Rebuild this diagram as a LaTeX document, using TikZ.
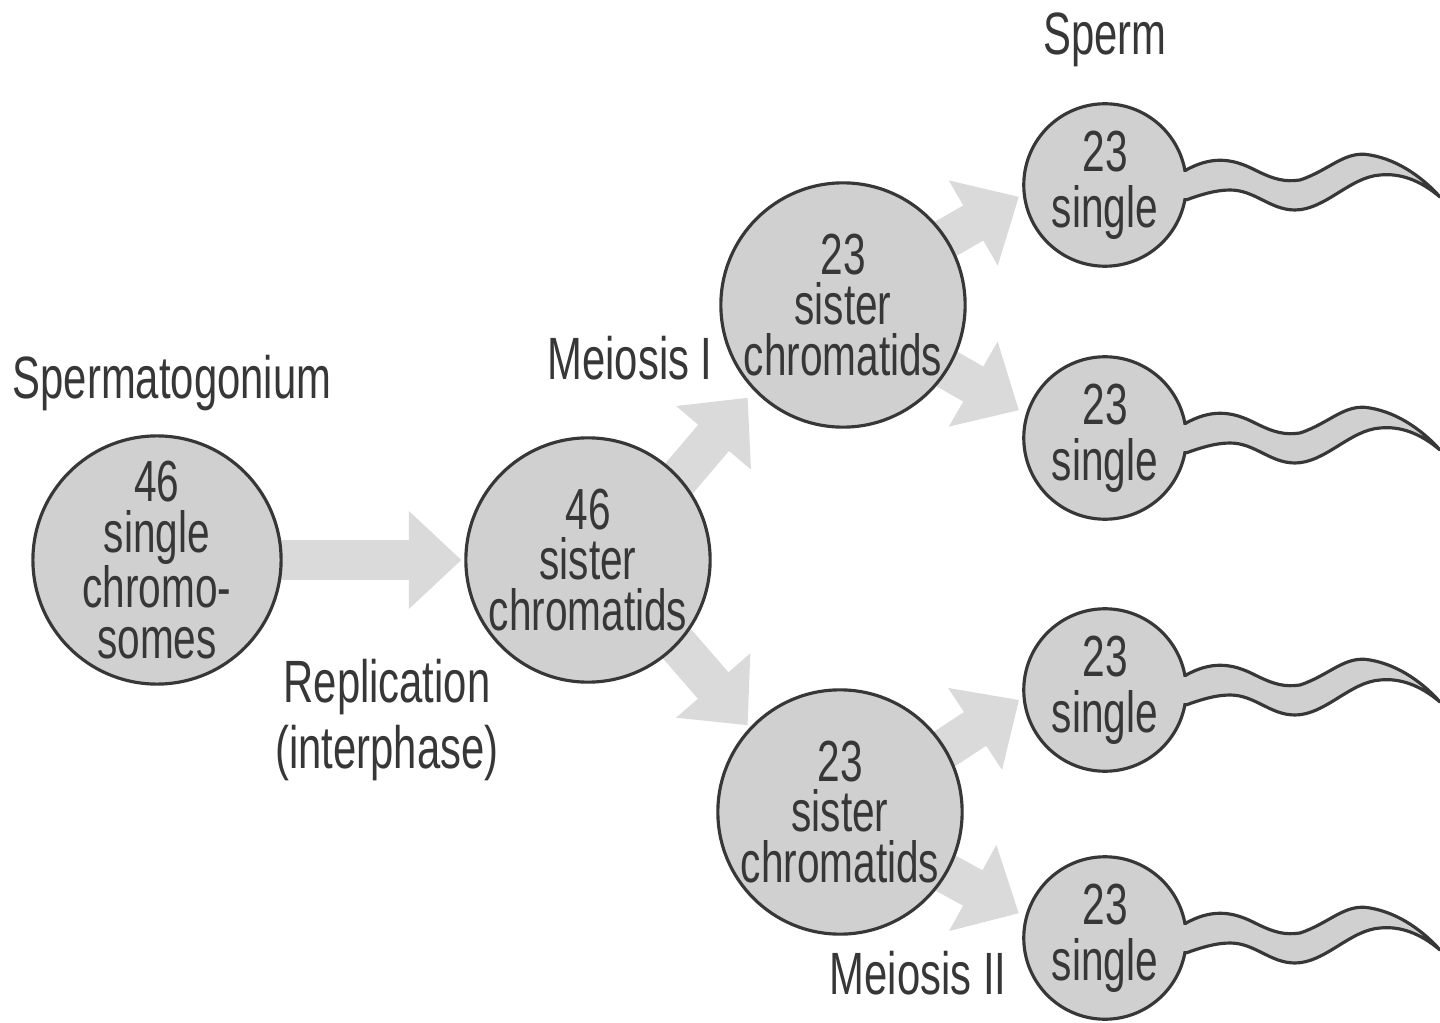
\documentclass[tikz,border=0pt]{standalone}
\usepackage{fontspec}
\setmainfont{Liberation Sans}[FakeStretch=0.7]
\usetikzlibrary{arrows.meta}
\definecolor{cellfill}{RGB}{208,208,208}
\definecolor{arrowfill}{RGB}{218,218,218}
\definecolor{ink}{RGB}{55,55,55}
\tikzset{
  cell/.style={circle,draw=ink,line width=1.8pt,fill=cellfill,minimum size=#1,inner sep=0pt,align=center,text=ink,font=\fontsize{33}{29}\selectfont},
  lab/.style={text=ink,font=\fontsize{34}{38}\selectfont,align=center,inner sep=0pt},
  bigarrow/.style={draw=arrowfill,line width=23pt,-{Triangle[width=54pt,length=30pt]},shorten >=2pt}
}
\begin{document}
\begin{tikzpicture}[x=0.02cm,y=-0.02cm]
\useasboundingbox (0,0) rectangle (1440,1023);
% tails
\foreach \cy/\nm in {185/t1,438/t2,690/t3,938/t4}{
  \begin{scope}[shift={(1105,\cy)}]
  \fill[cellfill] (60,-15) -- (82,-15) .. controls (105,-28) and (125,-28) .. (150,-15) .. controls (170,-5) and (180,-3) .. (195,-5) .. controls (225,-15) and (240,-35) .. (265,-30) .. controls (295,-25) and (320,-5) .. (335,12) .. controls (315,-5) and (295,-12) .. (275,-10) .. controls (245,-8) and (220,25) .. (190,25) .. controls (165,25) and (150,5) .. (125,5) .. controls (110,5) and (95,10) .. (82,15) -- (60,15) -- cycle;
  \end{scope}
}
% arrows
\coordinate (a1) at (280,560); \coordinate (a2) at (465,560);
\draw[bigarrow] (a1) -- (a2);
\coordinate (b1) at (665,495); \coordinate (b2) at (750,395);
\draw[bigarrow] (b1) -- (b2);
\coordinate (c1) at (665,630); \coordinate (c2) at (750,728);
\draw[bigarrow] (c1) -- (c2);
\coordinate (d1) at (935,245); \coordinate (d2) at (1022,195);
\draw[bigarrow] (d1) -- (d2);
\coordinate (e1) at (940,365); \coordinate (e2) at (1022,412);
\draw[bigarrow] (e1) -- (e2);
\coordinate (f1) at (940,752); \coordinate (f2) at (1022,698);
\draw[bigarrow] (f1) -- (f2);
\coordinate (g1) at (940,870); \coordinate (g2) at (1022,915);
\draw[bigarrow] (g1) -- (g2);
% cells
\node[cell=4.65cm] (A) at (157,560) {46\\single\\chromo-\\somes};
\node[cell=4.65cm] (B) at (588,560) {46\\sister\\chromatids};
\node[cell=4.65cm] (C) at (843,305) {23\\sister\\chromatids};
\node[cell=4.65cm] (D) at (840,812) {23\\sister\\chromatids};
\foreach \cy/\nm in {185/S1,438/S2,690/S3,938/S4}{
  \node[cell=3.25cm,font=\fontsize{33}{32}\selectfont] (\nm) at (1105,\cy) {23\\single};
  \begin{scope}[shift={(1105,\cy)}]
  \fill[cellfill] (70,-13) rectangle (84,13);
  \draw[ink,line width=1.8pt,line join=round] (81,-15) .. controls (105,-28) and (125,-28) .. (150,-15) .. controls (170,-5) and (180,-3) .. (195,-5) .. controls (225,-15) and (240,-35) .. (265,-30) .. controls (295,-25) and (320,-5) .. (335,12) .. controls (315,-5) and (295,-12) .. (275,-10) .. controls (245,-8) and (220,25) .. (190,25) .. controls (165,25) and (150,5) .. (125,5) .. controls (110,5) and (95,10) .. (81,15);
  \end{scope}
}
% labels
\node[lab] (l1) at (172,383) {Spermatogonium};
\node[lab] (l2) at (387,720) {Replication\\(interphase)};
\node[lab] (l3) at (630,358) {Meiosis I};
\node[lab] (l4) at (1105,40) {Sperm};
\node[lab] (l5) at (918,973) {Meiosis II};
\end{tikzpicture}
\end{document}
